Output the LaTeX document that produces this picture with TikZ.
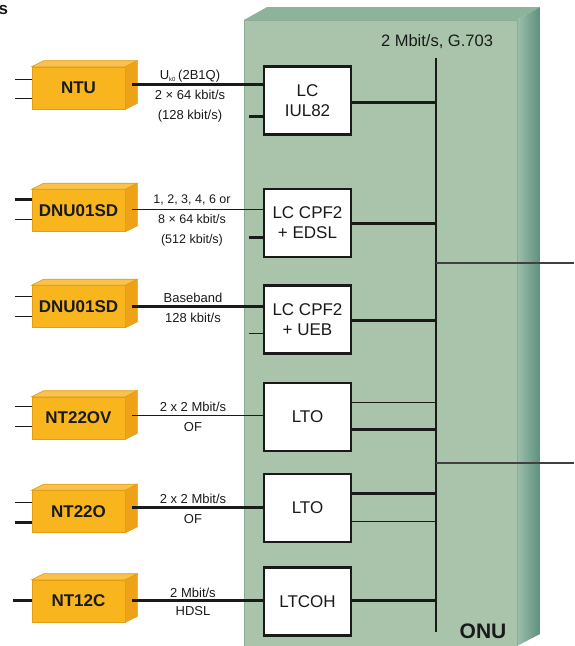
\documentclass[tikz,border=0pt]{standalone}
\usepackage{fontspec}
\setmainfont{Liberation Sans}
\definecolor{onufront}{HTML}{A9C4AB}
\definecolor{onuedge}{HTML}{8AAE95}
\definecolor{onutop}{HTML}{8DB39C}
\definecolor{onuside1}{HTML}{9DBEAB}
\definecolor{onuside2}{HTML}{5E8F7E}
\definecolor{devfront}{HTML}{F8B51E}
\definecolor{devtop}{HTML}{F9C24C}
\definecolor{devside}{HTML}{EEA218}
\definecolor{devedge}{HTML}{E59D15}
\definecolor{ink}{HTML}{1A1A1A}
\newcommand\mydev[3]{%
  \node[devbox] (#1) at (78.5,#2) {#3};
  \filldraw[fill=devtop, draw=devedge, line width=0.6pt] (#1.north west) -- ++(12,-6) -- ([shift={(12,-6)}]#1.north east) -- (#1.north east) -- cycle;
  \filldraw[fill=devside, draw=devedge, line width=0.6pt] (#1.north east) -- ++(12,-6) -- ([shift={(12,-6)}]#1.south east) -- (#1.south east) -- cycle;
}
\begin{document}
\begin{tikzpicture}[x=1pt,y=-1pt,
  thk/.style={line width=3pt, draw=ink},
  thn/.style={line width=1pt, draw=ink},
  lcbox/.style={draw=ink, line width=2.3pt, fill=white, minimum width=87pt, minimum height=68pt, align=center, font=\fontsize{17}{20}\selectfont, inner sep=0pt, text=ink},
  devbox/.style={draw=devedge, line width=0.6pt, fill=devfront, minimum width=93pt, minimum height=42pt, font=\fontsize{17}{20}\selectfont\bfseries, inner sep=0pt, text=ink},
  lbl/.style={font=\fontsize{13}{20}\selectfont, align=center, inner sep=0pt, text=ink},
]
\useasboundingbox (0,0) rectangle (574,646);
% stray letter at top left
\node[anchor=base west, inner sep=0pt, font=\fontsize{17}{20}\selectfont\bfseries, text=ink] (s) at (-1.5,14) {s};
% ONU cabinet
\fill[onufront] (244,20) rectangle (517,646);
\draw[onuedge, line width=0.8pt] (244,646) -- (244,20) -- (517,20) -- (517,646);
\fill[onutop] (244,20) -- (267,7) -- (540,7) -- (517,20) -- cycle;
\shade[left color=onuside1, right color=onuside2] (517,20) -- (540,7) -- (540,634) -- (517,646) -- cycle;
\draw[onuedge, line width=0.6pt] (517,20) -- (517,646);
\node[font=\fontsize{21}{24}\selectfont\bfseries, text=ink, inner sep=0pt] (onulbl) at (483,631) {ONU};
% bus
\coordinate (bustop) at (436,58);
\coordinate (busbot) at (436,632);
\coordinate (out1) at (574,263);
\coordinate (out2) at (574,463);
\node[font=\fontsize{16.5}{20}\selectfont, text=ink, inner sep=0pt] (buslbl) at (437,42) {2 Mbit/s, G.703};
\draw[thn, line width=1.1pt] (bustop) -- (busbot);
\draw[thn, draw=black!75, line width=1.1pt] (bustop |- out1) -- (out1);
\draw[thn, draw=black!75, line width=1.1pt] (bustop |- out2) -- (out2);
% devices
\mydev{ntu}{88}{NTU}
\mydev{dnua}{210.5}{DNU01SD}
\mydev{dnub}{306.5}{DNU01SD}
\mydev{ntov}{418}{NT22OV}
\mydev{nto}{511.5}{NT22O}
\mydev{ntc}{601}{NT12C}
% device left stubs
\draw[thn] (ntu.west |- 0,79) -- ++(-17,0);
\draw[thn] (ntu.west |- 0,98) -- ++(-17,0);
\draw[thk] (dnua.west |- 0,199) -- ++(-17,0);
\draw[thn] (dnua.west |- 0,219) -- ++(-17,0);
\draw[thn] (dnub.west |- 0,296) -- ++(-17,0);
\draw[thn] (dnub.west |- 0,316) -- ++(-17,0);
\draw[thn] (ntov.west |- 0,406) -- ++(-17,0);
\draw[thn] (ntov.west |- 0,426) -- ++(-17,0);
\draw[thn] (nto.west |- 0,502) -- ++(-17,0);
\draw[thk] (nto.west |- 0,522) -- ++(-17,0);
\draw[thk] (ntc.west |- 0,600) -- ++(-19,0);
% line cards
\node[lcbox] (lc1) at (307.5,100.5) {LC\\IUL82};
\node[lcbox] (lc2) at (307.5,223) {LC CPF2\\+ EDSL};
\node[lcbox] (lc3) at (307.5,319.5) {LC CPF2\\+ UEB};
\node[lcbox] (lc4) at (307.5,417) {LTO};
\node[lcbox] (lc5) at (307.5,508) {LTO};
\node[lcbox] (lc6) at (307.5,601.5) {LTCOH};
% device to line card
\draw[thk] (ntu.east |- 0,84) ++(7,0) -- (lc1.west |- 0,84);
\draw[thn] (dnua.east |- 0,209) ++(7,0) -- (lc2.west |- 0,209);
\draw[thk] (dnub.east |- 0,306) ++(7,0) -- (lc3.west |- 0,306);
\draw[thn] (ntov.east |- 0,415) ++(7,0) -- (lc4.west |- 0,415);
\draw[thk] (nto.east |- 0,507) ++(7,0) -- (lc5.west |- 0,507);
\draw[thk] (ntc.east |- 0,600) ++(7,0) -- (lc6.west |- 0,600);
% extra stubs on line cards
\draw[thk] (lc1.west |- 0,116) -- ++(-14,0);
\draw[thk] (lc2.west |- 0,237) -- ++(-14,0);
\draw[thn] (lc3.west |- 0,333) -- ++(-14,0);
% line card to bus
\draw[thk] (lc1.east |- 0,102) -- (bustop |- 0,102);
\draw[thk] (lc2.east |- 0,223) -- (bustop |- 0,223);
\draw[thk] (lc3.east |- 0,320) -- (bustop |- 0,320);
\draw[thn] (lc4.east |- 0,402) -- (bustop |- 0,402);
\draw[thk] (lc4.east |- 0,429) -- (bustop |- 0,429);
\draw[thk] (lc5.east |- 0,493) -- (bustop |- 0,493);
\draw[thn] (lc5.east |- 0,521) -- (bustop |- 0,521);
\draw[thk] (lc6.east |- 0,600) -- (bustop |- 0,600);
% connector labels
\node[lbl] (l1) at (190,96) {U\textsubscript{\fontsize{6}{6}\selectfont k0}\,(2B1Q)\\2 × 64 kbit/s\\(128 kbit/s)};
\node[lbl, font=\fontsize{12.5}{20}\selectfont] (l2) at (192,220.5) {1, 2, 3, 4, 6 or\\8 × 64 kbit/s\\(512 kbit/s)};
\node[lbl] (l3) at (193,308) {Baseband\\128 kbit/s};
\node[lbl] (l4) at (193,416.5) {2 x 2 Mbit/s\\OF};
\node[lbl] (l5) at (193,508.5) {2 x 2 Mbit/s\\OF};
\node[lbl, font=\fontsize{13}{18.5}\selectfont] (l6) at (193,602) {2 Mbit/s\\HDSL};
\end{tikzpicture}
\end{document}
